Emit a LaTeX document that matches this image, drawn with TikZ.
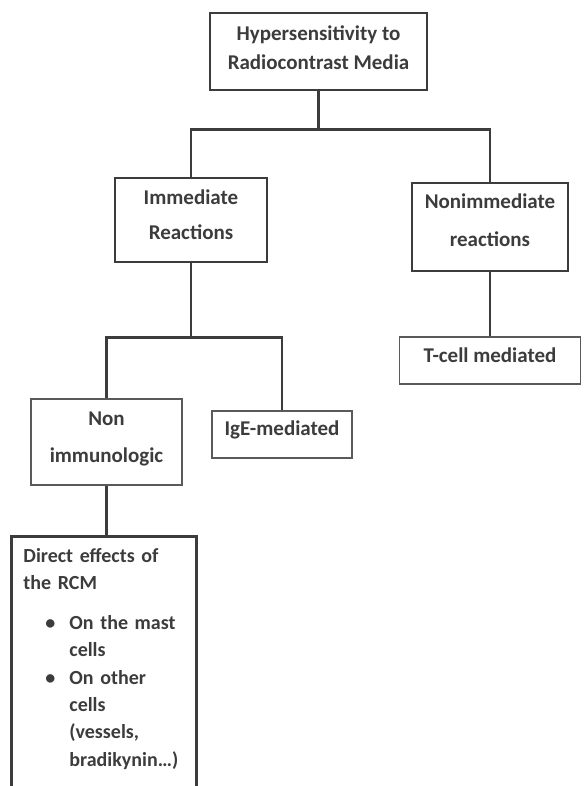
\documentclass[tikz,border=0pt]{standalone}
\usepackage{fontspec}
\setmainfont{Carlito}
\usetikzlibrary{positioning, calc}

\definecolor{inkgrey}{HTML}{3C3C3C}
\definecolor{rimgrey}{HTML}{5A5A5A}
\newcommand{\boxfont}[1]{\bfseries\fontsize{21}{#1}\selectfont}

\begin{document}
\begin{tikzpicture}[x=1pt, y=-1pt, text=inkgrey,
    bigbox/.style={draw=inkgrey, line width=2.8pt, align=center, inner sep=0pt},
    smallbox/.style={draw=rimgrey, line width=1.6pt, align=center, inner sep=0pt},
    link/.style={draw=inkgrey, line width=2.8pt}]
  \useasboundingbox (0,0) rectangle (583,786);

  % boxes
  \node[bigbox, minimum width=217pt, minimum height=77pt, text depth=8pt, font=\boxfont{29}] (root) at (318.5,51.5) {Hypersensitivity to\\Radiocontrast Media};
  \node[bigbox, minimum width=152pt, minimum height=84pt, text depth=10pt, font=\boxfont{35}] (imm) at (191,220) {Immediate\\Reactions};
  \node[bigbox, minimum width=156pt, minimum height=88pt, text depth=14pt, font=\boxfont{38}] (nonimm) at (490,227) {Nonimmediate\\reactions};
  \node[smallbox, minimum width=181pt, minimum height=47pt, text depth=12pt, font=\boxfont{20}] (tcell) [below=64pt of nonimm] {T-cell mediated};
  \node[smallbox, minimum width=151pt, minimum height=86pt, text depth=10pt, font=\boxfont{37}] (nonimmuno) at (106.5,442) {Non\\immunologic};
  \node[smallbox, minimum width=140pt, minimum height=47pt, text depth=13pt, font=\boxfont{20}] (ige) at (282,434.5) {IgE-mediated};
  \node[bigbox, anchor=north west, align=left, text width=161pt, inner xsep=12pt, inner ysep=12pt,
        font=\bfseries\fontsize{20}{27.4}\selectfont] (direct) at (10,535)
    {Direct effects of\\the RCM\\[12pt]
     \hspace*{22pt}\makebox[24pt][l]{•}On the mast\\
     \hspace*{46pt}cells\\
     \hspace*{22pt}\makebox[24pt][l]{•}On other\\
     \hspace*{46pt}cells\\
     \hspace*{46pt}(vessels,\\
     \hspace*{46pt}bradikynin…)\\[30pt]~};

  % connectors
  \draw[link] (root.south) -- ++(0,38) -| (imm.north);
  \draw[link] (root.south) ++(0,38) -| (nonimm.north);
  \draw[link] (imm.south) -- ++(0,74) -| (nonimmuno.north);
  \draw[link] (imm.south) ++(0,74) -| (ige.north);
  \draw[link] (nonimm.south) -- (tcell.north);
  \draw[link] (nonimmuno.south) -- (nonimmuno.south |- direct.north);
\end{tikzpicture}
\end{document}
